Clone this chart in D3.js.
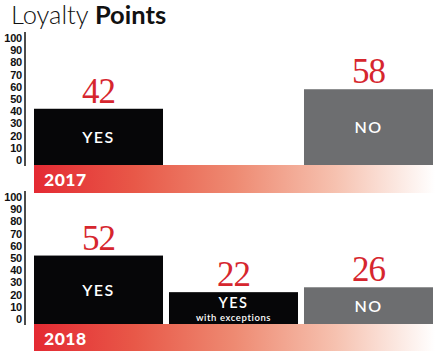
<!DOCTYPE html>
<html><head><meta charset="utf-8">
<script src="https://cdn.jsdelivr.net/npm/d3@7"></script>
<style>html,body{margin:0;padding:0;background:#fff;}svg{display:block;}</style>
</head><body>
<script>
const categories = ["YES", "YES with exceptions", "NO"];
const years = ["2017", "2018"];
const values2017 = [42, null, 58];
const values2018 = [52, 22, 26];
const tickValues = [0, 10, 20, 30, 40, 50, 60, 70, 80, 90, 100];

const W = 445, H = 361;
const svg = d3.select("body").append("svg").attr("width", W).attr("height", H);

const defs = svg.append("defs");
const grad = defs.append("linearGradient").attr("id", "band").attr("x1", 0).attr("x2", 1).attr("y1", 0).attr("y2", 0);
[[0, "#e42a33"], [0.25, "#e85848"], [0.5, "#ee8a72"], [0.75, "#f6c1af"], [1, "#ffffff"]].forEach(([o, c]) =>
  grad.append("stop").attr("offset", o).attr("stop-color", c));

// title
const title = svg.append("text").attr("x", 11).attr("y", 24)
  .attr("font-family", "Lato, 'Open Sans', sans-serif").attr("font-size", 25.5).attr("fill", "#111");
title.append("tspan").attr("font-weight", 300).text("Loyalty ");
title.append("tspan").attr("font-weight", 700).text("Points");

const x = d3.scaleBand().domain(categories).range([34, 433]).paddingInner(0.0444).paddingOuter(0);

const panels = [
  { year: years[0], values: values2017, y0: 160, y100: 38, bandTop: 165, bandH: 28 },
  { year: years[1], values: values2018, y0: 319, y100: 197, bandTop: 324, bandH: 27 }
];

panels.forEach(p => {
  const y = d3.scaleLinear().domain([0, 100]).range([p.y0, p.y100]);
  const g = svg.append("g");

  // axis
  const ax = g.append("g").attr("transform", "translate(25,0)")
    .call(d3.axisLeft(y).tickValues(tickValues).tickSize(0).tickPadding(3).tickFormat(d3.format("d")));
  ax.select(".domain").remove();
  ax.selectAll("text").attr("font-family", "'Liberation Sans Narrow', 'Arial Narrow', 'Liberation Sans', sans-serif")
    .attr("font-weight", 700).attr("font-size", 11).attr("fill", "#111").attr("letter-spacing", -0.2);
  g.append("line").attr("x1", 25).attr("x2", 25).attr("y1", y(100) - 6).attr("y2", p.bandTop + 1)
    .attr("stroke", "#111").attr("stroke-width", 1.5);

  const data = categories.map((c, i) => ({ cat: c, v: p.values[i] })).filter(d => d.v != null);

  // bars
  g.selectAll("rect.bar").data(data).join("rect").attr("class", "bar")
    .attr("x", d => x(d.cat)).attr("width", x.bandwidth())
    .attr("y", d => y(d.v)).attr("height", d => p.bandTop + 1 - y(d.v))
    .attr("fill", d => d.cat === "NO" ? "#6d6e70" : "#060608");

  // value labels
  g.selectAll("text.val").data(data).join("text").attr("class", "val")
    .attr("x", d => x(d.cat) + x.bandwidth() / 2).attr("y", d => y(d.v) - 6)
    .attr("text-anchor", "middle").attr("font-family", "'Liberation Serif', 'Times New Roman', serif")
    .attr("font-size", 35).attr("fill", "#d6262e").attr("letter-spacing", -1).text(d => d.v);

  // bar labels
  const lbl = g.selectAll("g.lbl").data(data).join("g").attr("class", "lbl")
    .attr("transform", d => `translate(${x(d.cat) + x.bandwidth() / 2},${(y(d.v) + p.bandTop) / 2})`);
  lbl.each(function (d) {
    const s = d3.select(this);
    const font = "Lato, 'Open Sans', sans-serif";
    if (d.cat === "YES with exceptions") {
      s.append("text").attr("y", 0.2).attr("text-anchor", "middle").attr("font-family", font)
        .attr("font-weight", 600).attr("font-size", 14.5).attr("letter-spacing", 1.5).attr("fill", "#fff").text("YES");
      s.append("text").attr("y", 12.8).attr("text-anchor", "middle").attr("font-family", font)
        .attr("font-weight", 600).attr("font-size", 9.5).attr("letter-spacing", 0.6).attr("fill", "#fff").text("with exceptions");
    } else {
      s.append("text").attr("y", 6).attr("text-anchor", "middle").attr("font-family", font)
        .attr("font-weight", 600).attr("font-size", 16).attr("letter-spacing", 1.5).attr("fill", "#fff").text(d.cat);
    }
  });

  // year band
  g.append("rect").attr("x", 34).attr("y", p.bandTop).attr("width", 401).attr("height", p.bandH).attr("fill", "url(#band)");
  g.append("text").attr("x", 44).attr("y", p.bandTop + 21).attr("font-family", "Lato, 'Open Sans', sans-serif")
    .attr("font-weight", 900).attr("font-size", 17.5).attr("letter-spacing", 0.5).attr("fill", "#fff").text(p.year);
});
</script>
</body></html>
